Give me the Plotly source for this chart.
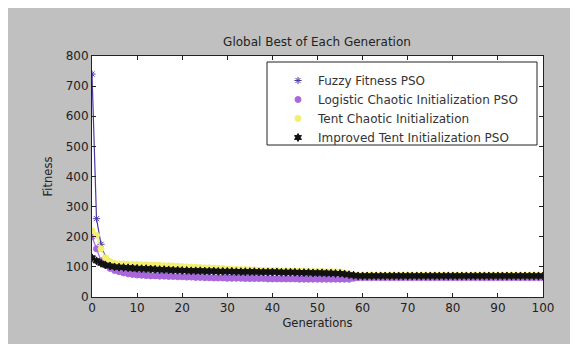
import plotly.graph_objects as go

generations = list(range(101))

fuzzy = [740, 260, 175, 130, 110, 100, 95, 90, 88, 85,
         82, 80, 79, 78, 77, 76, 76, 75, 75, 74,
         74, 73, 73, 72, 72, 72, 71, 71, 71, 70,
         70, 70, 70, 69, 69, 69, 69, 68, 68, 68,
         68, 68, 67, 67, 67, 67, 67, 66, 66, 66,
         66, 66, 66, 66, 65, 65, 65, 65, 65, 66,
         66, 66, 66, 66, 66, 66, 66, 66, 66, 66,
         66, 66, 66, 66, 66, 66, 66, 66, 66, 66,
         66, 66, 66, 66, 66, 66, 66, 66, 66, 66,
         66, 66, 66, 66, 66, 66, 66, 66, 66, 66, 66]

logistic = [200, 160, 120, 105, 95, 88, 84, 80, 77, 75,
            73, 72, 71, 70, 70, 69, 69, 68, 68, 67,
            67, 66, 66, 65, 65, 64, 64, 63, 63, 63,
            62, 62, 62, 62, 61, 61, 61, 61, 61, 60,
            60, 60, 60, 60, 60, 60, 59, 59, 59, 59,
            59, 59, 59, 59, 59, 59, 59, 59, 62, 64,
            64, 64, 64, 64, 64, 64, 64, 64, 64, 64,
            64, 64, 64, 64, 64, 64, 64, 64, 64, 64,
            64, 64, 64, 64, 64, 64, 64, 64, 64, 64,
            64, 64, 64, 64, 64, 64, 64, 64, 64, 64, 64]

tent = [220, 205, 160, 130, 118, 112, 110, 110, 109, 108,
        108, 107, 107, 106, 106, 105, 104, 104, 103, 102,
        101, 100, 99, 99, 98, 97, 97, 96, 95, 95,
        93, 92, 92, 91, 91, 90, 90, 89, 89, 88,
        88, 88, 87, 87, 87, 86, 86, 86, 85, 85,
        85, 85, 84, 84, 84, 83, 80, 76, 74, 72,
        72, 72, 72, 72, 72, 72, 72, 72, 72, 72,
        72, 72, 72, 72, 72, 72, 72, 72, 72, 72,
        72, 72, 72, 72, 72, 72, 72, 72, 72, 72,
        72, 72, 72, 72, 72, 72, 72, 72, 72, 72, 72]

improved = [130, 120, 112, 106, 103, 100, 99, 98, 97, 96,
            95, 94, 94, 93, 92, 91, 91, 90, 89, 89,
            88, 88, 87, 87, 87, 86, 86, 86, 85, 85,
            85, 85, 84, 84, 84, 84, 84, 83, 83, 83,
            83, 83, 82, 82, 82, 82, 81, 81, 81, 80,
            80, 80, 79, 79, 78, 78, 76, 74, 72, 70,
            70, 70, 70, 70, 70, 70, 70, 70, 70, 70,
            70, 70, 70, 70, 70, 70, 70, 70, 70, 70,
            70, 70, 70, 70, 70, 70, 70, 70, 70, 70,
            70, 70, 70, 70, 70, 70, 70, 70, 70, 70, 70]

series_names = ["Fuzzy Fitness PSO", "Logistic Chaotic Initialization PSO",
                "Tent Chaotic Initialization", "Improved Tent Initialization PSO"]
x_ticks = list(range(0, 101, 10))
y_ticks = list(range(0, 801, 100))

styles = [
    dict(color="#4a3aa8", symbol="asterisk-open", size=6),
    dict(color="#a868dc", symbol="circle", size=6),
    dict(color="#f2ee70", symbol="circle", size=6),
    dict(color="#111111", symbol="hexagram", size=6),
]

FONT = "DejaVu Sans, Liberation Sans, sans-serif"

fig = go.Figure()
for name, vals, st in zip(series_names, [fuzzy, logistic, tent, improved], styles):
    fig.add_trace(go.Scatter(
        x=generations, y=vals, name=name, mode="lines+markers", showlegend=False,
        line=dict(color=st["color"], width=1.2),
        marker=dict(color=st["color"], symbol=st["symbol"], size=st["size"],
                    line=dict(color=st["color"], width=1)),
    ))
# legend entries (markers only, as in the reference legend)
for name, st in zip(series_names, styles):
    fig.add_trace(go.Scatter(
        x=[None], y=[None], name=name, mode="markers", showlegend=True,
        marker=dict(color=st["color"], symbol=st["symbol"], size=6,
                    line=dict(color=st["color"], width=1)),
    ))

W, H = 578, 344
OFF = 8  # page body margin
# plot area in page pixels
PL, PR, PT, PB = 92, 543, 56, 297
pw, ph = PR - PL, PB - PT

def px_x(p):
    return (p - PL) / pw

def px_y(p):
    return (PB - p) / ph

fig.update_layout(
    width=W, height=H,
    margin=dict(l=PL - OFF, r=W - (PR - OFF), t=PT - OFF, b=H - (PB - OFF)),
    paper_bgcolor="#c0c0c0",
    plot_bgcolor="white",
    font=dict(family=FONT, size=12, color="#222"),
    title=dict(text="Global Best of Each Generation", x=(317 - OFF) / W, xanchor="center",
               y=1 - (42 - OFF) / H, yanchor="middle", font=dict(size=12, color="#222")),
    showlegend=True,
    legend=dict(x=px_x(278), y=px_y(66), xanchor="left", yanchor="top",
                bgcolor="rgba(0,0,0,0)", borderwidth=0,
                font=dict(size=12, color="#333"), tracegroupgap=0,
                itemwidth=30),
    shapes=[
        dict(type="rect", xref="paper", yref="paper",
             x0=px_x(267), x1=px_x(537), y0=px_y(145), y1=px_y(62),
             fillcolor="white", line=dict(width=1, color="#222"), layer="above"),
    ],
)
fig.update_xaxes(range=[0, 100], tickvals=x_ticks, ticks="inside", ticklen=4,
                 showgrid=False, zeroline=False, showline=True, linecolor="#222",
                 mirror="ticks", tickcolor="#222", tickfont=dict(size=12),
                 title=dict(text="Generations", standoff=4, font=dict(size=11.5)))
fig.update_yaxes(range=[0, 800], tickvals=y_ticks, ticks="inside", ticklen=4,
                 showgrid=False, zeroline=False, showline=True, linecolor="#222",
                 mirror="ticks", tickcolor="#222", tickfont=dict(size=12),
                 title=dict(text="Fitness", standoff=10, font=dict(size=11.5)))

fig.write_html("out.html")
